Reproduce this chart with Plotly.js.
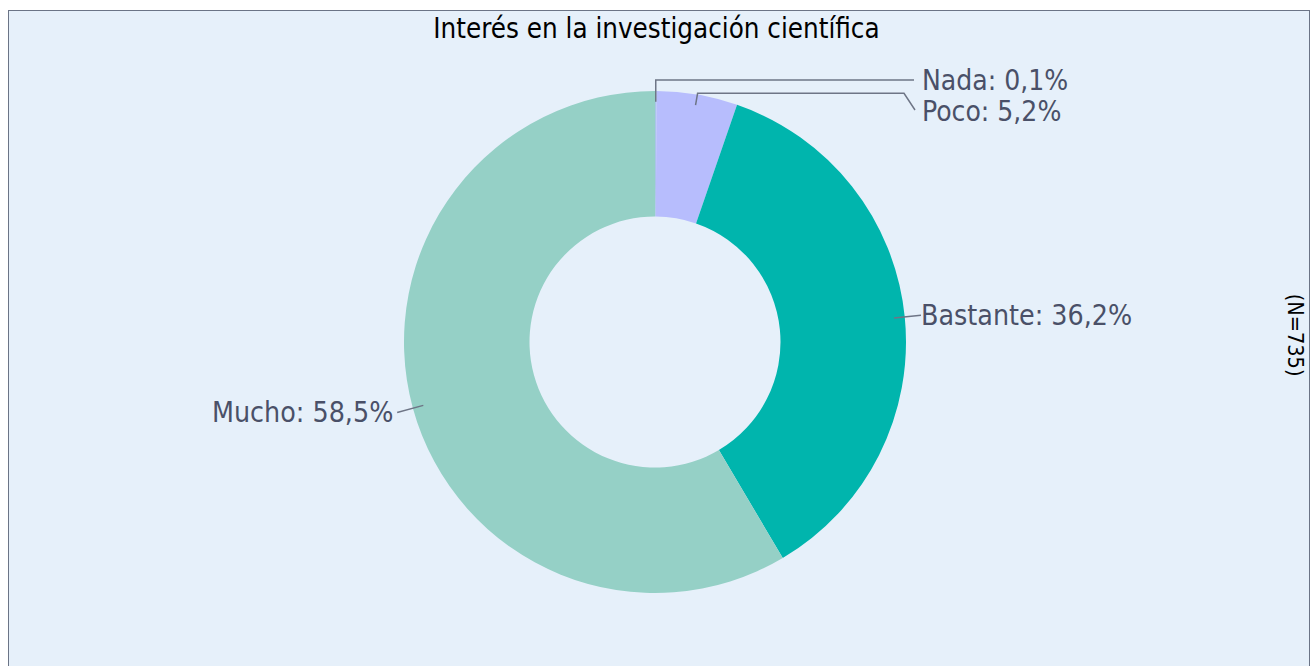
<!DOCTYPE html>
<html>
<head>
<meta charset="utf-8">
<script src="https://cdn.plot.ly/plotly-3.0.1.min.js"></script>
<style>
  html, body { margin: 0; padding: 0; background: #ffffff; }
  #chart { position: absolute; left: 8px; top: 10px; width: 1300px; height: 680px; border: 1px solid #6b7486; }
</style>
</head>
<body>
<div id="chart"></div>
<script>
// ---- data ----
const labels = ["Nada", "Poco", "Bastante", "Mucho"];
const values = [0.1, 5.2, 36.2, 58.5];
const colors = ["#a9c4e8", "#b7bdfd", "#00b5ad", "#95d0c6"];
const titleText = "Interés en la investigación científica";
const noteText = "(N=735)";

// ---- geometry of the figure (layout, not data) ----
const FONT = "'DejaVu Sans Condensed', 'DejaVu Sans', Verdana, sans-serif";
const W = 1132, H = 502;          // plot area in px
const R = Math.min(W, H) / 2;     // pie radius in px
const TEXT_COLOR = "#4a5068";
const LINE_COLOR = "#6e7586";

function toPaper(dx, dy) {        // px offset from pie centre (dy down) -> paper
  return [0.5 + dx / W, 0.5 - dy / H];
}
function fmt(v) { return v.toFixed(1).replace(".", ","); }

const total = values.reduce((a, b) => a + b, 0);
let cum = 0;
const mids = values.map(v => { const m = (cum + v / 2) / total * 2 * Math.PI; cum += v; return m; });

const shapes = [];
const annotations = [];
const rIn = 0.957 * R, rOut = 1.065 * R;

// Small top slices (stacked to the right of the pie)
const topLabelX = 265;            // px right of centre
const topLabelY0 = -R - 11;       // first label row
const rowGap = 32;
let row = 0;
labels.forEach((lab, i) => {
  const a = mids[i];
  const sx = Math.sin(a), sy = -Math.cos(a);
  const text = lab + ": " + fmt(values[i] / total * 100) + "%";
  if (values[i] / total < 0.08) {
    const ly = topLabelY0 + row * rowGap;
    const start = [rIn * sx, rIn * sy];
    let pts;
    if (row === 0) {
      pts = [start, [start[0], ly], [topLabelX - 6, ly]];
    } else {
      const e = [1.005 * R * sx, 1.005 * R * sy];
      pts = [start, e, [topLabelX - 16, e[1]], [topLabelX - 5, ly - 2]];
    }
    const path = pts.map((p, k) => { const q = toPaper(p[0], p[1]); return (k ? "L" : "M") + q[0] + "," + q[1]; }).join(" ");
    shapes.push({ type: "path", xref: "paper", yref: "paper", path: path, line: { color: LINE_COLOR, width: 1.5 } });
    const tp = toPaper(topLabelX, ly);
    annotations.push({ text: text, xref: "paper", yref: "paper", x: tp[0], y: tp[1], xanchor: "left", yanchor: "middle",
      showarrow: false, font: { family: FONT, size: 28, color: TEXT_COLOR } });
    row++;
  } else {
    const p0 = toPaper(rIn * sx, rIn * sy), p1 = toPaper(rOut * sx, rOut * sy);
    shapes.push({ type: "line", xref: "paper", yref: "paper", x0: p0[0], y0: p0[1], x1: p1[0], y1: p1[1],
      line: { color: LINE_COLOR, width: 1.5 } });
    const right = sx >= 0;
    const tp = toPaper(rOut * sx + (right ? -2 : -2), rOut * sy);
    annotations.push({ text: text, xref: "paper", yref: "paper", x: tp[0], y: tp[1], xanchor: right ? "left" : "right",
      yanchor: "middle", showarrow: false, font: { family: FONT, size: 28.3, color: TEXT_COLOR } });
  }
});

annotations.push({
  text: noteText, xref: "paper", yref: "paper",
  x: 1.066, y: 0.513, xanchor: "center", yanchor: "middle",
  textangle: 90, showarrow: false,
  font: { family: FONT, size: 21.5, color: "#000000" }
});

const trace = {
  type: "pie",
  labels: labels,
  values: values,
  hole: 0.5,
  sort: false,
  direction: "clockwise",
  rotation: 0,
  marker: { colors: colors, line: { width: 0 } },
  textinfo: "none",
  showlegend: false,
  hoverinfo: "label+percent"
};

const layout = {
  width: 1300,
  height: 680,
  paper_bgcolor: "#e6f0fa",
  plot_bgcolor: "#e6f0fa",
  margin: { l: 80, r: 88, t: 80, b: 98 },
  title: {
    text: titleText,
    font: { family: FONT, size: 27.5, color: "#000000" },
    x: 0.5013, xref: "paper", xanchor: "center",
    y: 0.974, yref: "container", yanchor: "middle"
  },
  shapes: shapes,
  annotations: annotations
};

Plotly.newPlot("chart", [trace], layout, { displayModeBar: false, staticPlot: true });
</script>
</body>
</html>
